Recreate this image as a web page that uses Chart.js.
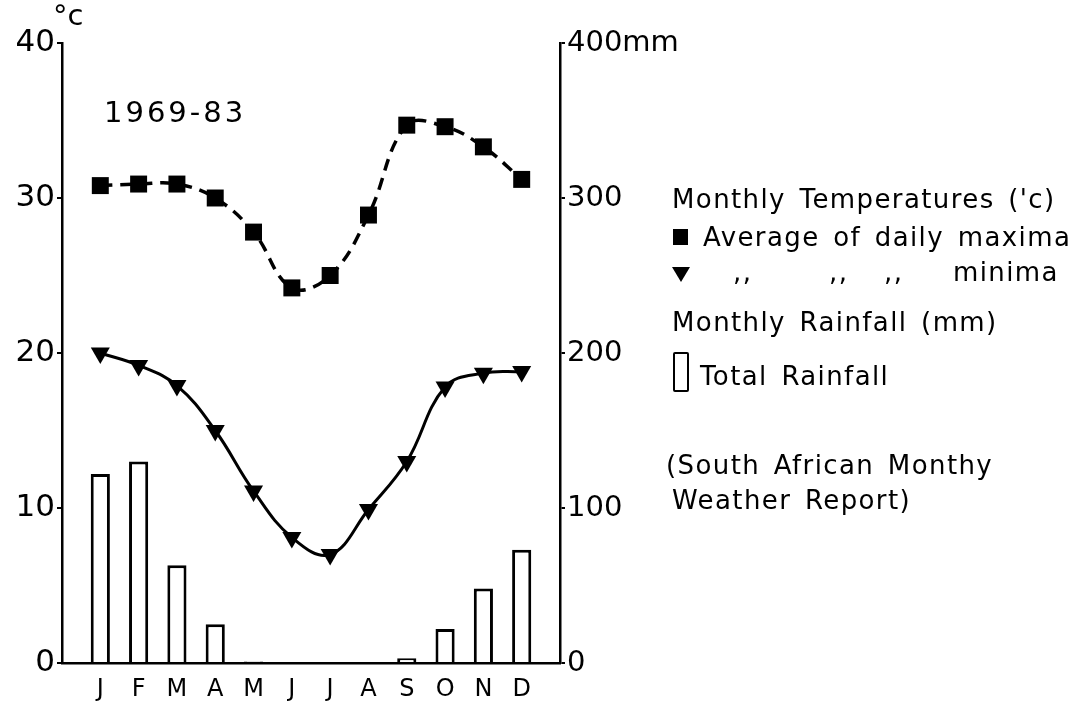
<!DOCTYPE html>
<html>
<head>
<meta charset="utf-8">
<script src="https://cdn.jsdelivr.net/npm/chart.js@4/dist/chart.umd.min.js"></script>
<style>
  html, body { margin:0; padding:0; background:#fff; }
  #wrap { position:relative; width:1075px; height:703px; font-family:"DejaVu Sans", sans-serif; color:#000; }
  #wrap canvas { position:absolute; left:0; top:0; }
  .t { position:absolute; white-space:pre; font-size:26px; letter-spacing:1.4px; word-spacing:4px; line-height:30px; }
  .sq { position:absolute; background:#000; }
  .tri { position:absolute; width:0; height:0; border-left:9px solid transparent; border-right:9px solid transparent; border-top:15px solid #000; }
  .box { position:absolute; border:2.5px solid #000; border-radius:2px; box-sizing:border-box; }
</style>
</head>
<body>
<div id="wrap">
  <canvas id="c" width="1075" height="703"></canvas>
  <div class="t" style="left:53px;top:0px;font-size:29px;letter-spacing:0;">°c</div>
  <div class="t" style="left:104px;top:97px;font-size:29px;letter-spacing:3px;">1969-83</div>
  <div class="t" style="left:672px;top:184px;">Monthly Temperatures ('c)</div>
  <div class="sq" style="left:673px;top:229px;width:15px;height:16px;"></div>
  <div class="t" style="left:703px;top:222px;">Average of daily maxima</div>
  <div class="tri" style="left:672px;top:267px;"></div>
  <div class="t" style="left:733px;top:257px;">,,</div>
  <div class="t" style="left:829px;top:257px;">,,</div>
  <div class="t" style="left:884px;top:257px;">,,</div>
  <div class="t" style="left:953px;top:257px;">minima</div>
  <div class="t" style="left:672px;top:307px;">Monthly Rainfall (mm)</div>
  <div class="box" style="left:673px;top:352px;width:16px;height:40px;"></div>
  <div class="t" style="left:700px;top:361px;">Total Rainfall</div>
  <div class="t" style="left:666px;top:450px;">(South African Monthy</div>
  <div class="t" style="left:672px;top:485px;">Weather Report)</div>
</div>
<script>
const months = ['J','F','M','A','M','J','J','A','S','O','N','D'];
const maxTemp = [30.8, 30.9, 30.9, 30.0, 27.8, 24.2, 25.0, 28.9, 34.7, 34.6, 33.3, 31.2];
const minTemp = [20.0, 19.2, 17.9, 15.0, 11.1, 8.1, 7.0, 9.9, 13.0, 17.8, 18.7, 18.8];
const rainfall = [122, 130, 63, 25, 1, 0, 0, 0, 3, 22, 48, 73];
const tempTicks = [0, 10, 20, 30, 40];
const rainTicks = [0, 100, 200, 300, 400];

const pts = arr => arr.map((v, i) => ({ x: i + 1, y: v }));
const noPad = s => { s.paddingTop = 0; s.paddingBottom = 0; };

new Chart(document.getElementById('c'), {
  type: 'bar',
  data: {
    datasets: [
      {
        type: 'line', label: 'Average of daily maxima', data: pts(maxTemp), yAxisID: 'yT', order: 0,
        borderColor: '#000', borderWidth: 3.5, borderDash: [12, 8], tension: 0.4,
        pointStyle: 'rect', pointRadius: 12, pointBackgroundColor: '#000', pointBorderWidth: 0
      },
      {
        type: 'line', label: 'minima', data: pts(minTemp), yAxisID: 'yT', order: 1,
        borderColor: '#000', borderWidth: 3, tension: 0.4,
        pointStyle: 'triangle', pointRotation: 180, pointRadius: 11, pointBackgroundColor: '#000', pointBorderWidth: 0
      },
      {
        type: 'bar', label: 'Total Rainfall', data: pts(rainfall), yAxisID: 'yR', order: 2,
        backgroundColor: '#fff', borderColor: '#000', borderWidth: 3,
        barPercentage: 0.5, categoryPercentage: 1
      }
    ]
  },
  options: {
    responsive: false,
    animation: false,
    layout: { padding: { left: 0, right: 0, top: 43, bottom: 0 } },
    plugins: { legend: { display: false }, tooltip: { enabled: false } },
    scales: {
      x: {
        type: 'linear', min: 0, max: 13, offset: false,
        afterFit: s => { s.height = 40; s.paddingLeft = 0; s.paddingRight = 0; },
        afterBuildTicks: s => { s.ticks = months.map((m, i) => ({ value: i + 1 })); },
        grid: { display: false },
        border: { color: '#000', width: 2.5 },
        ticks: {
          callback: v => months[v - 1] || '',
          color: '#000', padding: 4, maxRotation: 0, autoSkip: false,
          font: { family: 'DejaVu Sans', size: 24 }
        }
      },
      yT: {
        position: 'left', min: 0, max: 40,
        afterFit: s => { s.width = 62; noPad(s); },
        afterBuildTicks: s => { s.ticks = tempTicks.map(v => ({ value: v })); },
        grid: { drawOnChartArea: false, color: '#000', lineWidth: 2, tickLength: 5 },
        border: { color: '#000', width: 2.5 },
        ticks: { color: '#000', padding: 2, font: { family: 'DejaVu Sans', size: 31 } }
      },
      yR: {
        position: 'right', min: 0, max: 400,
        afterFit: s => { s.width = 515; noPad(s); },
        afterBuildTicks: s => { s.ticks = rainTicks.map(v => ({ value: v })); },
        grid: { drawOnChartArea: false, color: '#000', lineWidth: 2, tickLength: 5 },
        border: { color: '#000', width: 2.5 },
        ticks: {
          color: '#000', padding: 2, font: { family: 'DejaVu Sans', size: 29 },
          callback: v => v === 400 ? v + 'mm' : v
        }
      }
    }
  }
});
</script>
</body>
</html>
